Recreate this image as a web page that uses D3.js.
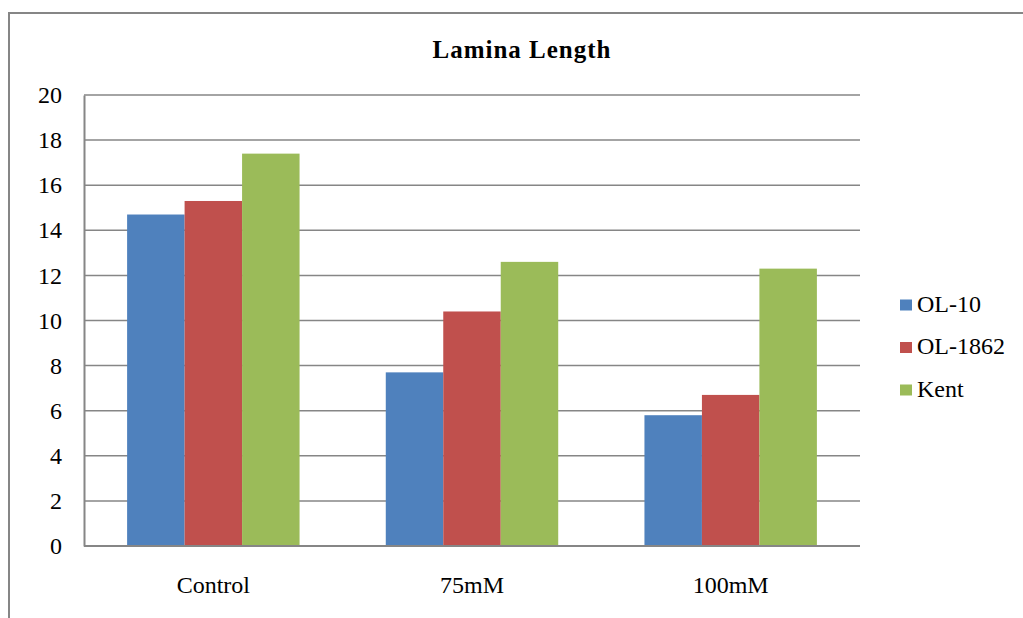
<!DOCTYPE html>
<html>
<head>
<meta charset="utf-8">
<script src="https://cdn.jsdelivr.net/npm/d3@7/dist/d3.min.js"></script>
<style>
  html, body { margin: 0; padding: 0; background: #fff; }
  svg { display: block; }
</style>
</head>
<body>
<svg id="chart" width="1023" height="618"></svg>
<script>
// Lamina length by treatment and variety
const categories = ["Control", "75mM", "100mM"];
const seriesNames = ["OL-10", "OL-1862", "Kent"];
const seriesColors = ["#4F81BD", "#C0504D", "#9BBB59"];
const ol10 = [14.7, 7.7, 5.8];
const ol1862 = [15.3, 10.4, 6.7];
const kent = [17.4, 12.6, 12.3];
const yTicks = [0, 2, 4, 6, 8, 10, 12, 14, 16, 18, 20];

const seriesValues = [ol10, ol1862, kent];
const FONT = '"Liberation Serif", "Times New Roman", serif';

const svg = d3.select("#chart").style("font-family", FONT);

// outer chart frame (runs off the right and bottom edges)
svg.append("rect")
  .attr("x", 9).attr("y", 13)
  .attr("width", 1040).attr("height", 640)
  .attr("fill", "#fff")
  .attr("stroke", "#868686").attr("stroke-width", 2);

const plot = { left: 84, right: 860, top: 95, bottom: 546 };

const x0 = d3.scaleBand()
  .domain(categories)
  .range([plot.left, plot.right])
  .paddingInner(0)
  .paddingOuter(0);

// bar width with 150% gap: band = 3w + 1.5w
const x1 = d3.scaleBand()
  .domain(seriesNames)
  .range([0, x0.bandwidth()])
  .paddingInner(0)
  .paddingOuter(0.75);

const y = d3.scaleLinear().domain([0, 20]).range([plot.bottom, plot.top]);

// gridlines
svg.append("g")
  .selectAll("line")
  .data(yTicks)
  .join("line")
  .attr("x1", plot.left).attr("x2", plot.right)
  .attr("y1", d => y(d)).attr("y2", d => y(d))
  .attr("stroke", "#868686").attr("stroke-width", 1.5);

// y axis
const yAxis = d3.axisLeft(y).tickValues(yTicks).tickSize(0).tickPadding(22);
const yg = svg.append("g").attr("transform", `translate(${plot.left},0)`).call(yAxis);
yg.attr("font-family", null);
yg.select(".domain").attr("stroke", "#868686").attr("stroke-width", 2);
yg.selectAll("text")
  .style("font-family", FONT)
  .style("font-size", "24px").attr("fill", "#000");

// bars
seriesNames.forEach((name, si) => {
  svg.append("g")
    .selectAll("rect")
    .data(categories.map((c, ci) => ({ c, v: seriesValues[si][ci] })))
    .join("rect")
    .attr("x", d => x0(d.c) + x1(name))
    .attr("width", x1.bandwidth())
    .attr("y", d => y(d.v))
    .attr("height", d => y(0) - y(d.v))
    .attr("fill", seriesColors[si]);
});

// baseline
svg.append("line")
  .attr("x1", plot.left).attr("x2", plot.right)
  .attr("y1", y(0)).attr("y2", y(0))
  .attr("stroke", "#868686").attr("stroke-width", 2);

// x axis labels
const xAxis = d3.axisBottom(x0).tickSize(0).tickPadding(30);
const xg = svg.append("g").attr("transform", `translate(0,${plot.bottom})`).call(xAxis);
xg.attr("font-family", null);
xg.select(".domain").remove();
xg.selectAll("text")
  .style("font-family", FONT)
  .style("font-size", "24px").attr("fill", "#000");

// title
svg.append("text")
  .attr("x", 522).attr("y", 58)
  .attr("text-anchor", "middle")
  .style("font-family", FONT)
  .style("font-size", "25px").style("font-weight", "bold")
  .style("letter-spacing", "1px")
  .text("Lamina Length");

// legend
const legend = svg.append("g");
seriesNames.forEach((name, i) => {
  const base = 311.5 + i * 42.5;
  legend.append("rect")
    .attr("x", 900).attr("y", base - 12)
    .attr("width", 12).attr("height", 11)
    .attr("fill", seriesColors[i]);
  legend.append("text")
    .attr("x", 917).attr("y", base)
    .style("font-family", FONT)
    .style("font-size", "24px")
    .text(name);
});
</script>
</body>
</html>
